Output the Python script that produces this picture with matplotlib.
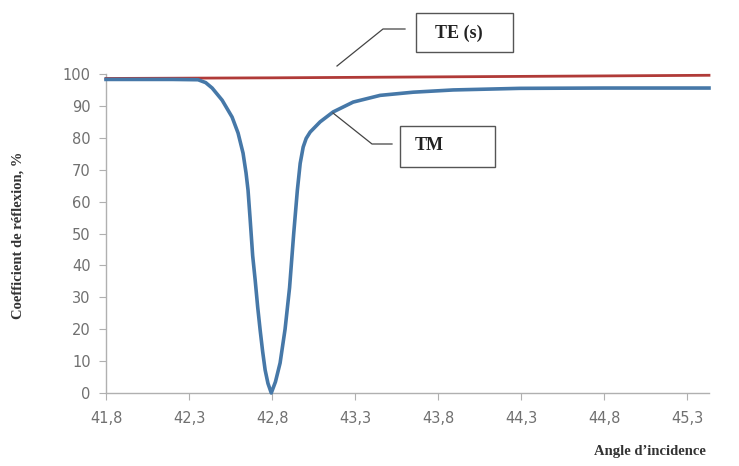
import matplotlib
matplotlib.use("Agg")
import matplotlib.pyplot as plt
from matplotlib.patches import Rectangle
from matplotlib.lines import Line2D

# Data
tm_angle = [41.80, 42.00, 42.20, 42.354, 42.40, 42.439, 42.499, 42.559, 42.595, 42.625,
            42.643, 42.655, 42.667, 42.683, 42.698, 42.713, 42.728, 42.743, 42.758, 42.775,
            42.795, 42.82, 42.848, 42.878, 42.905, 42.93, 42.952, 42.969, 42.987, 43.005,
            43.029, 43.089, 43.167, 43.288, 43.45, 43.65, 43.89, 44.29, 44.80, 45.43]
tm_refl = [98.3, 98.3, 98.3, 98.2, 97.3, 95.6, 91.8, 86.5, 81.5, 75.2,
           69.0, 63.6, 55.0, 43.0, 35.4, 27.0, 19.7, 13.0, 7.2, 3.0,
           0.0, 3.5, 9.4, 20.0, 33.0, 50.0, 63.6, 72.0, 77.1, 79.8,
           81.8, 85.0, 88.1, 91.2, 93.3, 94.3, 95.0, 95.5, 95.6, 95.6]
te_angle = [41.80, 42.80, 43.80, 44.80, 45.43]
te_refl = [98.6, 98.8, 99.1, 99.4, 99.6]

xticks = [41.8, 42.3, 42.8, 43.3, 43.8, 44.3, 44.8, 45.3]
xtick_labels = ["41,8", "42,3", "42,8", "43,3", "43,8", "44,3", "44,8", "45,3"]
yticks = list(range(0, 101, 10))

W, H = 739, 466
fig = plt.figure(figsize=(W / 100, H / 100), dpi=100)
ax = fig.add_axes([106 / W, (H - 393) / H, (709 - 106) / W, (393 - 74) / H])

ax.plot(te_angle, te_refl, color="#b03a38", lw=2.0, clip_on=False, zorder=3)
ax.plot(tm_angle, tm_refl, color="#4678a8", lw=2.6, clip_on=False, zorder=4,
        solid_joinstyle="round")

ax.set_xlim(41.8, 45.43)
ax.set_ylim(0, 100)
ax.set_xticks(xticks)
ax.set_xticklabels(xtick_labels)
ax.set_yticks(yticks)
for s in ["top", "right"]:
    ax.spines[s].set_visible(False)
for s in ["left", "bottom"]:
    ax.spines[s].set_color("#b0b0b0")
    ax.spines[s].set_linewidth(1.0)
ax.tick_params(axis="both", colors="#b0b0b0", labelcolor="#707070",
               labelsize=10.5, length=5, direction="out")
ax.tick_params(axis="x", pad=8)
ax.tick_params(axis="y", pad=6)

serif = "Liberation Serif"
fig.text(18 / W, 1 - 235 / H, "Coefficient de réflexion, %", rotation=90,
         ha="center", va="center", fontfamily=serif, fontweight="bold",
         fontsize=10.5, color="#333333")
fig.text(650 / W, 1 - 452 / H, "Angle d\u2019incidence", ha="center", va="center",
         fontfamily=serif, fontweight="bold", fontsize=10.5, color="#333333")

# Callout boxes
def box(x0, y0, x1, y1, label, tx, ty):
    fig.patches.append(Rectangle((x0 / W, 1 - y1 / H), (x1 - x0) / W, (y1 - y0) / H,
                                 transform=fig.transFigure, fill=False,
                                 edgecolor="#555555", lw=1.0))
    fig.text(tx / W, 1 - ty / H, label, ha="left", va="center", fontfamily=serif,
             fontweight="bold", fontsize=13, color="#222222")

box(416, 13, 513, 52, "TE (s)", 435, 33)
box(400, 126, 495, 167, "TM", 415, 146)

fig.add_artist(Line2D([337 / W, 383 / W, 405 / W],
                      [1 - 66 / H, 1 - 29 / H, 1 - 29 / H],
                      transform=fig.transFigure, color="#444444", lw=0.9))
fig.add_artist(Line2D([333 / W, 372 / W, 392 / W],
                      [1 - 113 / H, 1 - 144 / H, 1 - 144 / H],
                      transform=fig.transFigure, color="#444444", lw=0.9))

fig.savefig("out.png", dpi=100)
